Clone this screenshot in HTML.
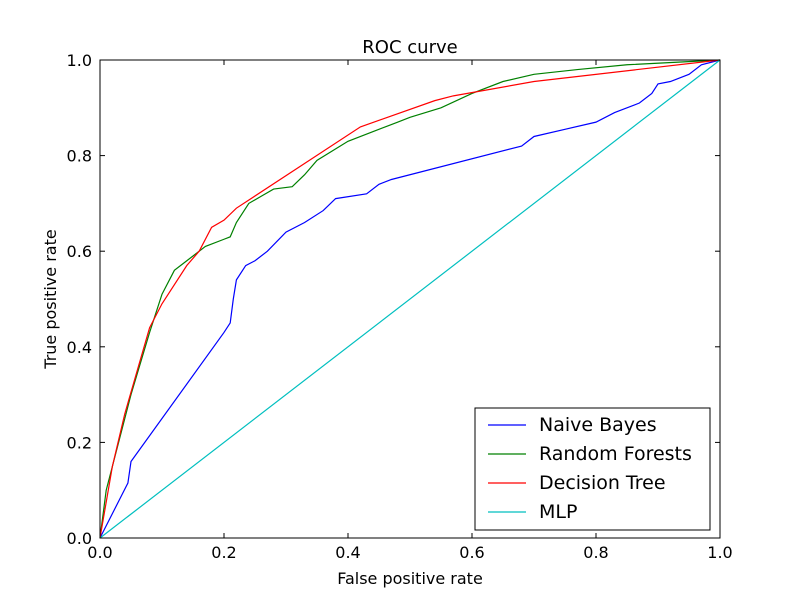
<!DOCTYPE html>
<html><head><meta charset="utf-8"><style>
body{margin:0;background:#fff}
svg text{font-family:"DejaVu Sans","Liberation Sans",sans-serif;fill:#000}
</style></head><body>
<svg id="chart" width="800" height="600">
<rect width="800" height="600" fill="#fff"/>
</svg>
<script>
const nbX=[0,0.045,0.05,0.2,0.21,0.215,0.22,0.235,0.25,0.27,0.3,0.33,0.36,0.38,0.43,0.45,0.47,0.68,0.7,0.75,0.8,0.83,0.87,0.89,0.9,0.92,0.95,0.97,1];
const nbY=[0,0.115,0.16,0.43,0.45,0.5,0.54,0.57,0.58,0.6,0.64,0.66,0.685,0.71,0.72,0.74,0.75,0.82,0.84,0.855,0.87,0.89,0.91,0.93,0.95,0.955,0.97,0.99,1];
const rfX=[0,0.01,0.04,0.05,0.08,0.09,0.1,0.12,0.14,0.17,0.2,0.21,0.22,0.24,0.26,0.28,0.31,0.33,0.35,0.4,0.44,0.48,0.5,0.55,0.6,0.65,0.7,0.77,0.85,1];
const rfY=[0,0.1,0.25,0.3,0.43,0.47,0.51,0.56,0.58,0.61,0.625,0.63,0.66,0.7,0.715,0.73,0.735,0.76,0.79,0.83,0.85,0.87,0.88,0.9,0.93,0.955,0.97,0.98,0.99,1];
const dtX=[0,0.02,0.04,0.06,0.08,0.1,0.14,0.16,0.18,0.2,0.22,0.42,0.54,0.57,0.7,1];
const dtY=[0,0.15,0.26,0.35,0.44,0.49,0.57,0.6,0.65,0.665,0.69,0.86,0.915,0.925,0.955,1];
const mlpX=[0,1];
const mlpY=[0,1];
const ticks=[0,0.2,0.4,0.6,0.8,1.0];
const tickLabels=["0.0","0.2","0.4","0.6","0.8","1.0"];
const seriesNames=["Naive Bayes","Random Forests","Decision Tree","MLP"];
const seriesColors=["#0000ff","#008000","#ff0000","#00bfbf"];

const svg=document.getElementById('chart');
const NS="http://www.w3.org/2000/svg";
const L=100,R=720,T=60,B=538;
const sx=v=>L+v*(R-L), sy=v=>B-v*(B-T);
function mk(tag,attrs,parent){const e=document.createElementNS(NS,tag);for(const k in attrs)e.setAttribute(k,attrs[k]);(parent||svg).appendChild(e);return e;}

const series=[[nbX,nbY],[rfX,rfY],[dtX,dtY],[mlpX,mlpY]];
series.forEach((s,i)=>{
  const p=mk('polyline',{points:s[0].map((x,j)=>sx(x)+','+sy(s[1][j])).join(' '),fill:'none',stroke:seriesColors[i],'stroke-width':1.2});
  
  
});
const frame=mk('rect',{x:L,y:T,width:R-L,height:B-T,fill:'none',stroke:'#000','stroke-width':1});


ticks.forEach((t,i)=>{
  const X=sx(t),Y=sy(t);
  mk('line',{x1:X,y1:B,x2:X,y2:B-5,stroke:'#000'});
  mk('line',{x1:X,y1:T,x2:X,y2:T+5,stroke:'#000'});
  mk('line',{x1:L,y1:Y,x2:L+5,y2:Y,stroke:'#000'});
  mk('line',{x1:R,y1:Y,x2:R-5,y2:Y,stroke:'#000'});
  const xt=mk('text',{x:X,y:B+20,'text-anchor':'middle','font-size':16});xt.textContent=tickLabels[i];
  
  
  const yt=mk('text',{x:L-8,y:Y+6,'text-anchor':'end','font-size':16});yt.textContent=tickLabels[i];
  
  
});
const title=mk('text',{x:410,y:53,'text-anchor':'middle','font-size':18});title.textContent="ROC curve";


const xl=mk('text',{x:410,y:584,'text-anchor':'middle','font-size':16});xl.textContent="False positive rate";


const yl=mk('text',{x:56,y:299,'text-anchor':'middle','font-size':16,transform:'rotate(-90 56 299)'});yl.textContent="True positive rate";


const lg=mk('g',{});


mk('rect',{x:475,y:408,width:235,height:122,fill:'#fff',stroke:'#000'},lg);
seriesNames.forEach((n,i)=>{
  const y=425+i*29;
  mk('line',{x1:488,y1:y,x2:526,y2:y,stroke:seriesColors[i],'stroke-width':1.2},lg);
  const t=mk('text',{x:539,y:y+6,'font-size':19},lg);t.textContent=n;
  
  
});
</script>
</body></html>
